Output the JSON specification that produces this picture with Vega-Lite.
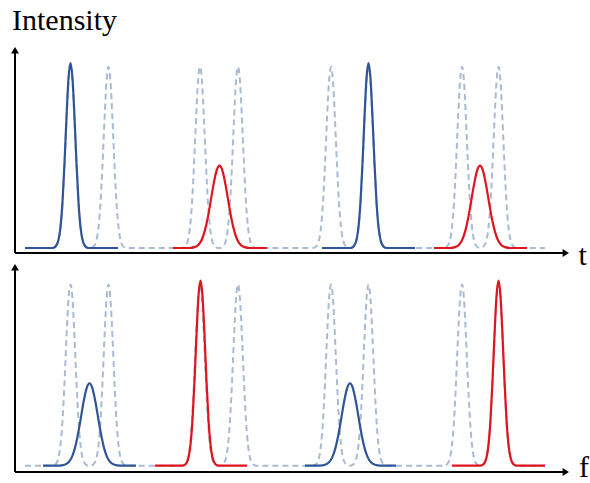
{
  "$schema": "https://vega.github.io/schema/vega-lite/v6.json",
  "padding": 0,
  "spacing": 0,
  "bounds": "flush",
  "background": "white",
  "config": {"view": {"stroke": null}},
  "datasets": {
    "comb": [
      {"x":10,"y":0},
      {"x":37.5,"y":0},{"x":40.5,"y":0.0074},{"x":43.5,"y":0.043},{"x":45.5,"y":0.112},{"x":47.5,"y":0.244},{"x":49.5,"y":0.449},{"x":51.5,"y":0.693},{"x":53.5,"y":0.899},{"x":55.5,"y":0.98},{"x":57.5,"y":0.899},{"x":59.5,"y":0.693},{"x":61.5,"y":0.449},{"x":63.5,"y":0.244},{"x":65.5,"y":0.112},{"x":67.5,"y":0.043},{"x":70.5,"y":0.0074},{"x":73.5,"y":0},
      {"x":75.5,"y":0},{"x":78.5,"y":0.0074},{"x":81.5,"y":0.043},{"x":83.5,"y":0.112},{"x":85.5,"y":0.244},{"x":87.5,"y":0.449},{"x":89.5,"y":0.693},{"x":91.5,"y":0.899},{"x":93.5,"y":0.98},{"x":95.5,"y":0.899},{"x":97.5,"y":0.693},{"x":99.5,"y":0.449},{"x":101.5,"y":0.244},{"x":103.5,"y":0.112},{"x":105.5,"y":0.043},{"x":108.5,"y":0.0074},{"x":111.5,"y":0},
      {"x":167,"y":0},{"x":170,"y":0.0074},{"x":173,"y":0.043},{"x":175,"y":0.112},{"x":177,"y":0.244},{"x":179,"y":0.449},{"x":181,"y":0.693},{"x":183,"y":0.899},{"x":185,"y":0.98},{"x":187,"y":0.899},{"x":189,"y":0.693},{"x":191,"y":0.449},{"x":193,"y":0.244},{"x":195,"y":0.112},{"x":197,"y":0.043},{"x":200,"y":0.0074},{"x":203,"y":0},
      {"x":205,"y":0},{"x":208,"y":0.0074},{"x":211,"y":0.043},{"x":213,"y":0.112},{"x":215,"y":0.244},{"x":217,"y":0.449},{"x":219,"y":0.693},{"x":221,"y":0.899},{"x":223,"y":0.98},{"x":225,"y":0.899},{"x":227,"y":0.693},{"x":229,"y":0.449},{"x":231,"y":0.244},{"x":233,"y":0.112},{"x":235,"y":0.043},{"x":238,"y":0.0074},{"x":241,"y":0},
      {"x":298,"y":0},{"x":301,"y":0.0074},{"x":304,"y":0.043},{"x":306,"y":0.112},{"x":308,"y":0.244},{"x":310,"y":0.449},{"x":312,"y":0.693},{"x":314,"y":0.899},{"x":316,"y":0.98},{"x":318,"y":0.899},{"x":320,"y":0.693},{"x":322,"y":0.449},{"x":324,"y":0.244},{"x":326,"y":0.112},{"x":328,"y":0.043},{"x":331,"y":0.0074},{"x":334,"y":0},
      {"x":335.5,"y":0},{"x":338.5,"y":0.0074},{"x":341.5,"y":0.043},{"x":343.5,"y":0.112},{"x":345.5,"y":0.244},{"x":347.5,"y":0.449},{"x":349.5,"y":0.693},{"x":351.5,"y":0.899},{"x":353.5,"y":0.98},{"x":355.5,"y":0.899},{"x":357.5,"y":0.693},{"x":359.5,"y":0.449},{"x":361.5,"y":0.244},{"x":363.5,"y":0.112},{"x":365.5,"y":0.043},{"x":368.5,"y":0.0074},{"x":371.5,"y":0},
      {"x":429,"y":0},{"x":432,"y":0.0074},{"x":435,"y":0.043},{"x":437,"y":0.112},{"x":439,"y":0.244},{"x":441,"y":0.449},{"x":443,"y":0.693},{"x":445,"y":0.899},{"x":447,"y":0.98},{"x":449,"y":0.899},{"x":451,"y":0.693},{"x":453,"y":0.449},{"x":455,"y":0.244},{"x":457,"y":0.112},{"x":459,"y":0.043},{"x":462,"y":0.0074},{"x":465,"y":0},
      {"x":465.5,"y":0},{"x":468.5,"y":0.0074},{"x":471.5,"y":0.043},{"x":473.5,"y":0.112},{"x":475.5,"y":0.244},{"x":477.5,"y":0.449},{"x":479.5,"y":0.693},{"x":481.5,"y":0.899},{"x":483.5,"y":0.98},{"x":485.5,"y":0.899},{"x":487.5,"y":0.693},{"x":489.5,"y":0.449},{"x":491.5,"y":0.244},{"x":493.5,"y":0.112},{"x":495.5,"y":0.043},{"x":498.5,"y":0.0074},{"x":501.5,"y":0},
      {"x":530,"y":0}
    ],
    "topSolid": [
      {"s":"T1","k":"A","x":10,"y":0},
      {"s":"T1","k":"A","x":37.5,"y":0},{"s":"T1","k":"A","x":40.5,"y":0.0076},{"s":"T1","k":"A","x":43.5,"y":0.044},{"s":"T1","k":"A","x":45.5,"y":0.114},{"s":"T1","k":"A","x":47.5,"y":0.249},{"s":"T1","k":"A","x":49.5,"y":0.458},{"s":"T1","k":"A","x":51.5,"y":0.707},{"s":"T1","k":"A","x":53.5,"y":0.917},{"s":"T1","k":"A","x":55.5,"y":1},{"s":"T1","k":"A","x":57.5,"y":0.917},{"s":"T1","k":"A","x":59.5,"y":0.707},{"s":"T1","k":"A","x":61.5,"y":0.458},{"s":"T1","k":"A","x":63.5,"y":0.249},{"s":"T1","k":"A","x":65.5,"y":0.114},{"s":"T1","k":"A","x":67.5,"y":0.044},{"s":"T1","k":"A","x":70.5,"y":0.0076},{"s":"T1","k":"A","x":73.5,"y":0},
      {"s":"T1","k":"A","x":103,"y":0},
      {"s":"T2","k":"B","x":158,"y":0},
      {"s":"T2","k":"B","x":174.5,"y":0},{"s":"T2","k":"B","x":179.5,"y":0.0048},{"s":"T2","k":"B","x":183.5,"y":0.0181},{"s":"T2","k":"B","x":186.5,"y":0.0424},{"s":"T2","k":"B","x":189.5,"y":0.0869},{"s":"T2","k":"B","x":192.5,"y":0.1565},{"s":"T2","k":"B","x":195.5,"y":0.2472},{"s":"T2","k":"B","x":198.5,"y":0.3427},{"s":"T2","k":"B","x":201.5,"y":0.4169},{"s":"T2","k":"B","x":204.5,"y":0.445},{"s":"T2","k":"B","x":207.5,"y":0.4169},{"s":"T2","k":"B","x":210.5,"y":0.3427},{"s":"T2","k":"B","x":213.5,"y":0.2472},{"s":"T2","k":"B","x":216.5,"y":0.1565},{"s":"T2","k":"B","x":219.5,"y":0.0869},{"s":"T2","k":"B","x":222.5,"y":0.0424},{"s":"T2","k":"B","x":225.5,"y":0.0181},{"s":"T2","k":"B","x":229.5,"y":0.0048},{"s":"T2","k":"B","x":234.5,"y":0},
      {"s":"T2","k":"B","x":252,"y":0},
      {"s":"T3","k":"A","x":307,"y":0},
      {"s":"T3","k":"A","x":335.5,"y":0},{"s":"T3","k":"A","x":338.5,"y":0.0076},{"s":"T3","k":"A","x":341.5,"y":0.044},{"s":"T3","k":"A","x":343.5,"y":0.114},{"s":"T3","k":"A","x":345.5,"y":0.249},{"s":"T3","k":"A","x":347.5,"y":0.458},{"s":"T3","k":"A","x":349.5,"y":0.707},{"s":"T3","k":"A","x":351.5,"y":0.917},{"s":"T3","k":"A","x":353.5,"y":1},{"s":"T3","k":"A","x":355.5,"y":0.917},{"s":"T3","k":"A","x":357.5,"y":0.707},{"s":"T3","k":"A","x":359.5,"y":0.458},{"s":"T3","k":"A","x":361.5,"y":0.249},{"s":"T3","k":"A","x":363.5,"y":0.114},{"s":"T3","k":"A","x":365.5,"y":0.044},{"s":"T3","k":"A","x":368.5,"y":0.0076},{"s":"T3","k":"A","x":371.5,"y":0},
      {"s":"T3","k":"A","x":400,"y":0},
      {"s":"T4","k":"B","x":419,"y":0},
      {"s":"T4","k":"B","x":435,"y":0},{"s":"T4","k":"B","x":440,"y":0.0048},{"s":"T4","k":"B","x":444,"y":0.0181},{"s":"T4","k":"B","x":447,"y":0.0424},{"s":"T4","k":"B","x":450,"y":0.0869},{"s":"T4","k":"B","x":453,"y":0.1565},{"s":"T4","k":"B","x":456,"y":0.2472},{"s":"T4","k":"B","x":459,"y":0.3427},{"s":"T4","k":"B","x":462,"y":0.4169},{"s":"T4","k":"B","x":465,"y":0.445},{"s":"T4","k":"B","x":468,"y":0.4169},{"s":"T4","k":"B","x":471,"y":0.3427},{"s":"T4","k":"B","x":474,"y":0.2472},{"s":"T4","k":"B","x":477,"y":0.1565},{"s":"T4","k":"B","x":480,"y":0.0869},{"s":"T4","k":"B","x":483,"y":0.0424},{"s":"T4","k":"B","x":486,"y":0.0181},{"s":"T4","k":"B","x":490,"y":0.0048},{"s":"T4","k":"B","x":495,"y":0},
      {"s":"T4","k":"B","x":512,"y":0}
    ],
    "bottomSolid": [
      {"s":"B1","k":"A","x":28,"y":0},
      {"s":"B1","k":"A","x":44.5,"y":0},{"s":"B1","k":"A","x":49.5,"y":0.0048},{"s":"B1","k":"A","x":53.5,"y":0.0181},{"s":"B1","k":"A","x":56.5,"y":0.0424},{"s":"B1","k":"A","x":59.5,"y":0.0869},{"s":"B1","k":"A","x":62.5,"y":0.1565},{"s":"B1","k":"A","x":65.5,"y":0.2472},{"s":"B1","k":"A","x":68.5,"y":0.3427},{"s":"B1","k":"A","x":71.5,"y":0.4169},{"s":"B1","k":"A","x":74.5,"y":0.445},{"s":"B1","k":"A","x":77.5,"y":0.4169},{"s":"B1","k":"A","x":80.5,"y":0.3427},{"s":"B1","k":"A","x":83.5,"y":0.2472},{"s":"B1","k":"A","x":86.5,"y":0.1565},{"s":"B1","k":"A","x":89.5,"y":0.0869},{"s":"B1","k":"A","x":92.5,"y":0.0424},{"s":"B1","k":"A","x":95.5,"y":0.0181},{"s":"B1","k":"A","x":99.5,"y":0.0048},{"s":"B1","k":"A","x":104.5,"y":0},
      {"s":"B1","k":"A","x":121,"y":0},
      {"s":"B2","k":"B","x":140,"y":0},
      {"s":"B2","k":"B","x":167.5,"y":0},{"s":"B2","k":"B","x":170.5,"y":0.0076},{"s":"B2","k":"B","x":173.5,"y":0.044},{"s":"B2","k":"B","x":175.5,"y":0.114},{"s":"B2","k":"B","x":177.5,"y":0.249},{"s":"B2","k":"B","x":179.5,"y":0.458},{"s":"B2","k":"B","x":181.5,"y":0.707},{"s":"B2","k":"B","x":183.5,"y":0.917},{"s":"B2","k":"B","x":185.5,"y":1},{"s":"B2","k":"B","x":187.5,"y":0.917},{"s":"B2","k":"B","x":189.5,"y":0.707},{"s":"B2","k":"B","x":191.5,"y":0.458},{"s":"B2","k":"B","x":193.5,"y":0.249},{"s":"B2","k":"B","x":195.5,"y":0.114},{"s":"B2","k":"B","x":197.5,"y":0.044},{"s":"B2","k":"B","x":200.5,"y":0.0076},{"s":"B2","k":"B","x":203.5,"y":0},
      {"s":"B2","k":"B","x":232,"y":0},
      {"s":"B3","k":"A","x":290,"y":0},
      {"s":"B3","k":"A","x":305,"y":0},{"s":"B3","k":"A","x":310,"y":0.0048},{"s":"B3","k":"A","x":314,"y":0.0181},{"s":"B3","k":"A","x":317,"y":0.0424},{"s":"B3","k":"A","x":320,"y":0.0869},{"s":"B3","k":"A","x":323,"y":0.1565},{"s":"B3","k":"A","x":326,"y":0.2472},{"s":"B3","k":"A","x":329,"y":0.3427},{"s":"B3","k":"A","x":332,"y":0.4169},{"s":"B3","k":"A","x":335,"y":0.445},{"s":"B3","k":"A","x":338,"y":0.4169},{"s":"B3","k":"A","x":341,"y":0.3427},{"s":"B3","k":"A","x":344,"y":0.2472},{"s":"B3","k":"A","x":347,"y":0.1565},{"s":"B3","k":"A","x":350,"y":0.0869},{"s":"B3","k":"A","x":353,"y":0.0424},{"s":"B3","k":"A","x":356,"y":0.0181},{"s":"B3","k":"A","x":360,"y":0.0048},{"s":"B3","k":"A","x":365,"y":0},
      {"s":"B3","k":"A","x":381,"y":0},
      {"s":"B4","k":"B","x":437,"y":0},
      {"s":"B4","k":"B","x":465.5,"y":0},{"s":"B4","k":"B","x":468.5,"y":0.0076},{"s":"B4","k":"B","x":471.5,"y":0.044},{"s":"B4","k":"B","x":473.5,"y":0.114},{"s":"B4","k":"B","x":475.5,"y":0.249},{"s":"B4","k":"B","x":477.5,"y":0.458},{"s":"B4","k":"B","x":479.5,"y":0.707},{"s":"B4","k":"B","x":481.5,"y":0.917},{"s":"B4","k":"B","x":483.5,"y":1},{"s":"B4","k":"B","x":485.5,"y":0.917},{"s":"B4","k":"B","x":487.5,"y":0.707},{"s":"B4","k":"B","x":489.5,"y":0.458},{"s":"B4","k":"B","x":491.5,"y":0.249},{"s":"B4","k":"B","x":493.5,"y":0.114},{"s":"B4","k":"B","x":495.5,"y":0.044},{"s":"B4","k":"B","x":498.5,"y":0.0076},{"s":"B4","k":"B","x":501.5,"y":0},
      {"s":"B4","k":"B","x":530,"y":0}
    ]
  },
  "vconcat": [
    {
      "width": 590,
      "height": 258,
      "layer": [
        {
          "data": {"name": "comb"},
          "mark": {"type": "line", "interpolate": "monotone", "color": "#a9bad3", "strokeWidth": 2, "strokeDash": [6, 4]},
          "encoding": {
            "x": {"field": "x", "type": "quantitative", "scale": {"domain": [-15, 575], "nice": false, "zero": false}, "axis": null},
            "y": {"field": "y", "type": "quantitative", "scale": {"domain": [-0.05405, 1.34054], "nice": false, "zero": false}, "axis": null}
          }
        },
        {
          "data": {"name": "topSolid"},
          "mark": {"type": "line", "interpolate": "monotone", "strokeWidth": 2.2},
          "encoding": {
            "x": {"field": "x", "type": "quantitative"},
            "y": {"field": "y", "type": "quantitative"},
            "detail": {"field": "s", "type": "nominal"},
            "color": {"field": "k", "type": "nominal", "scale": {"domain": ["A", "B"], "range": ["#2f5597", "#e0141e"]}, "legend": null}
          }
        },
        {
          "data": {"values": [
            {"x": 0, "x2": 551, "y": -0.027, "y2": -0.027},
            {"x": 0, "x2": 0, "y": -0.027, "y2": 1.07}
          ]},
          "mark": {"type": "rule", "color": "black", "strokeWidth": 2},
          "encoding": {
            "x": {"field": "x", "type": "quantitative"},
            "x2": {"field": "x2"},
            "y": {"field": "y", "type": "quantitative"},
            "y2": {"field": "y2"}
          }
        },
        {
          "data": {"values": [{"x": 554, "y": -0.027}]},
          "mark": {"type": "point", "shape": "M0,0L-1.6,-1L-1.6,1Z", "filled": true, "color": "black", "opacity": 1, "size": 64},
          "encoding": {
            "x": {"field": "x", "type": "quantitative"},
            "y": {"field": "y", "type": "quantitative"}
          }
        },
        {
          "data": {"values": [{"x": 0, "y": 1.0865}]},
          "mark": {"type": "point", "shape": "M0,0L-1,1.6L1,1.6Z", "filled": true, "color": "black", "opacity": 1, "size": 64},
          "encoding": {
            "x": {"field": "x", "type": "quantitative"},
            "y": {"field": "y", "type": "quantitative"}
          }
        },
        {
          "data": {"values": [
            {"x": -3, "y": 1.178, "label": "Intensity"},
            {"x": 563.5, "y": -0.0919, "label": "t"}
          ]},
          "mark": {"type": "text", "align": "left", "baseline": "alphabetic", "font": "Liberation Serif", "fontSize": 30, "color": "black"},
          "encoding": {
            "x": {"field": "x", "type": "quantitative"},
            "y": {"field": "y", "type": "quantitative"},
            "text": {"field": "label"}
          }
        }
      ]
    },
    {
      "width": 590,
      "height": 225,
      "layer": [
        {
          "data": {"name": "comb"},
          "mark": {"type": "line", "interpolate": "monotone", "color": "#a9bad3", "strokeWidth": 2, "strokeDash": [6, 4]},
          "encoding": {
            "x": {"field": "x", "type": "quantitative", "scale": {"domain": [-15, 575], "nice": false, "zero": false}, "axis": null},
            "y": {"field": "y", "type": "quantitative", "scale": {"domain": [-0.09351, 1.1227], "nice": false, "zero": false}, "axis": null}
          }
        },
        {
          "data": {"name": "bottomSolid"},
          "mark": {"type": "line", "interpolate": "monotone", "strokeWidth": 2.2},
          "encoding": {
            "x": {"field": "x", "type": "quantitative"},
            "y": {"field": "y", "type": "quantitative"},
            "detail": {"field": "s", "type": "nominal"},
            "color": {"field": "k", "type": "nominal", "scale": {"domain": ["A", "B"], "range": ["#2f5597", "#e0141e"]}, "legend": null}
          }
        },
        {
          "data": {"values": [
            {"x": 0, "x2": 551, "y": -0.0341, "y2": -0.0341},
            {"x": 0, "x2": 0, "y": -0.0341, "y2": 1.075}
          ]},
          "mark": {"type": "rule", "color": "black", "strokeWidth": 2},
          "encoding": {
            "x": {"field": "x", "type": "quantitative"},
            "x2": {"field": "x2"},
            "y": {"field": "y", "type": "quantitative"},
            "y2": {"field": "y2"}
          }
        },
        {
          "data": {"values": [{"x": 554, "y": -0.0341}]},
          "mark": {"type": "point", "shape": "M0,0L-1.6,-1L-1.6,1Z", "filled": true, "color": "black", "opacity": 1, "size": 64},
          "encoding": {
            "x": {"field": "x", "type": "quantitative"},
            "y": {"field": "y", "type": "quantitative"}
          }
        },
        {
          "data": {"values": [{"x": 0, "y": 1.0903}]},
          "mark": {"type": "point", "shape": "M0,0L-1,1.6L1,1.6Z", "filled": true, "color": "black", "opacity": 1, "size": 64},
          "encoding": {
            "x": {"field": "x", "type": "quantitative"},
            "y": {"field": "y", "type": "quantitative"}
          }
        },
        {
          "data": {"values": [
            {"x": 564, "y": -0.0611, "label": "f"}
          ]},
          "mark": {"type": "text", "align": "left", "baseline": "alphabetic", "font": "Liberation Serif", "fontSize": 30, "color": "black"},
          "encoding": {
            "x": {"field": "x", "type": "quantitative"},
            "y": {"field": "y", "type": "quantitative"},
            "text": {"field": "label"}
          }
        }
      ]
    }
  ]
}
